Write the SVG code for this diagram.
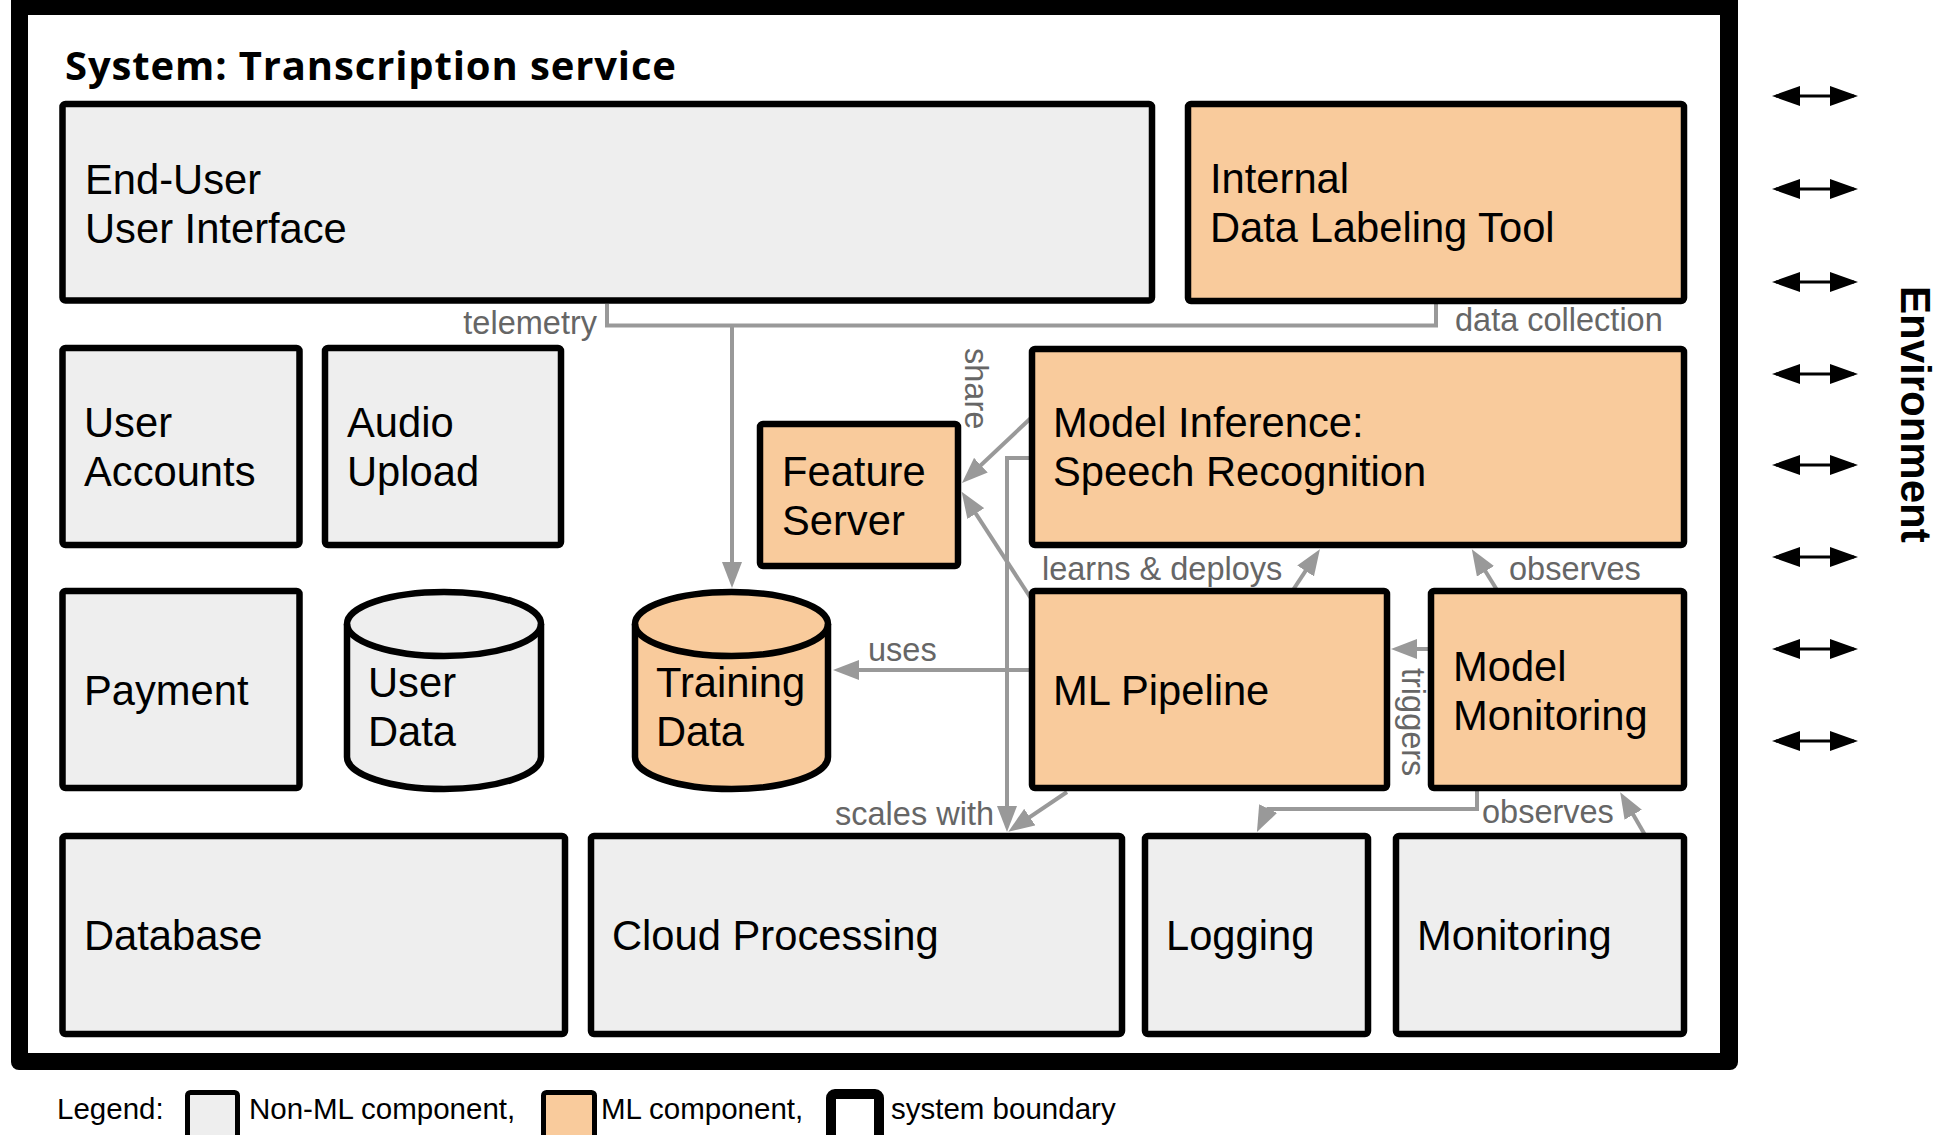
<svg xmlns="http://www.w3.org/2000/svg" width="1936" height="1135" viewBox="0 0 1936 1135">
<style>
.box{stroke:#000;stroke-width:6.5;stroke-linejoin:round}
.non{fill:#eeeeee}
.ml{fill:#f9cb9c}
.t{font-family:"Liberation Sans",Arial,sans-serif;font-size:41.7px;fill:#000}
.lbl{font-family:"Liberation Sans",Arial,sans-serif;font-size:32.5px;fill:#666666}
.con{fill:none;stroke:#999999;stroke-width:4}
.env{fill:none;stroke:#000;stroke-width:3}
.leg{font-family:"Liberation Sans",Arial,sans-serif;font-size:29.5px;fill:#000}
</style>
<defs>
<marker id="ah" viewBox="0 0 26 20" refX="18" refY="10" markerWidth="26" markerHeight="20" markerUnits="userSpaceOnUse" orient="auto">
<path d="M0,0 L26,10 L0,20 z" fill="#999999"/>
</marker>
<marker id="eh" viewBox="0 0 28 20" refX="24" refY="10" markerWidth="28" markerHeight="20" markerUnits="userSpaceOnUse" orient="auto-start-reverse">
<path d="M0,0 L28,10 L0,20 z" fill="#000"/>
</marker>
</defs>
<rect x="0" y="0" width="1936" height="1135" fill="#fff"/>
<g id="system-boundary">
<rect x="11" y="-10" width="1727" height="1080" rx="8" fill="#000"/>
<rect x="28" y="15" width="1692" height="1038" fill="#fff"/>
<text x="65" y="80" font-family="'Open Sans','Noto Sans',sans-serif" font-weight="700" font-size="40" textLength="611" fill="#000">System: Transcription service</text>
</g>
<g id="connectors">
<path class="con" d="M607,304 V325.5 H1436 V304"/>
<path class="con" d="M732,325.5 V580" marker-end="url(#ah)"/>
<path class="con" d="M1032,417 L967.8,477.5" marker-end="url(#ah)"/>
<path class="con" d="M1032,600 L966,498.5" marker-end="url(#ah)"/>
<path class="con" d="M1032,458 H1007 V824" marker-end="url(#ah)"/>
<path class="con" d="M1067,792 L1014.9,827.2" marker-end="url(#ah)"/>
<path class="con" d="M1032,670 H841" marker-end="url(#ah)"/>
<path class="con" d="M1293,590 L1315.5,555.9" marker-end="url(#ah)"/>
<path class="con" d="M1497,590 L1476,556" marker-end="url(#ah)"/>
<path class="con" d="M1431,649 H1399" marker-end="url(#ah)"/>
<path class="con" d="M1477,791 V809 H1268 L1260.4,824.8" marker-end="url(#ah)"/>
<path class="con" d="M1645,835 L1624.2,799.1" marker-end="url(#ah)"/>
<text class="lbl" x="597" y="334" text-anchor="end">telemetry</text>
<text class="lbl" x="1455" y="331">data collection</text>
<text class="lbl" transform="translate(965,348) rotate(90)">share</text>
<text class="lbl" x="1042" y="580">learns &amp; deploys</text>
<text class="lbl" x="1509" y="580">observes</text>
<text class="lbl" x="868" y="661">uses</text>
<text class="lbl" transform="translate(1402,668) rotate(90)">triggers</text>
<text class="lbl" x="994" y="825" text-anchor="end">scales with</text>
<text class="lbl" x="1482" y="823">observes</text>
</g>
<g id="end-user-ui">
<rect class="box non" x="62.5" y="104" width="1089.5" height="196.5" rx="3"/>
<text class="t" x="85" y="194">End-User</text>
<text class="t" x="85" y="243">User Interface</text>
</g>
<g id="data-labeling-tool">
<rect class="box ml" x="1188" y="104" width="496" height="197" rx="3"/>
<text class="t" x="1210" y="193">Internal</text>
<text class="t" x="1210" y="242">Data Labeling Tool</text>
</g>
<g id="user-accounts">
<rect class="box non" x="62.5" y="348" width="237" height="197" rx="3"/>
<text class="t" x="84" y="437">User</text>
<text class="t" x="84" y="486">Accounts</text>
</g>
<g id="audio-upload">
<rect class="box non" x="325" y="348" width="236" height="197" rx="3"/>
<text class="t" x="347" y="437">Audio</text>
<text class="t" x="347" y="486">Upload</text>
</g>
<g id="feature-server">
<rect class="box ml" x="760" y="424" width="198" height="142" rx="3"/>
<text class="t" x="782" y="486">Feature</text>
<text class="t" x="782" y="535">Server</text>
</g>
<g id="model-inference">
<rect class="box ml" x="1032" y="349" width="652" height="196" rx="3"/>
<text class="t" x="1053" y="437">Model Inference:</text>
<text class="t" x="1053" y="486">Speech Recognition</text>
</g>
<g id="payment">
<rect class="box non" x="62.5" y="591" width="237" height="197" rx="3"/>
<text class="t" x="84" y="705">Payment</text>
</g>
<g id="user-data">
<path class="box non" d="M347,624 A97,32 0 0 1 541,624 V757 A97,32 0 0 1 347,757 Z"/>
<path class="box" fill="none" d="M347,624 A97,32 0 0 0 541,624"/>
<text class="t" x="368" y="697">User</text>
<text class="t" x="368" y="746">Data</text>
</g>
<g id="training-data">
<path class="box ml" d="M635,624 A96.5,32 0 0 1 828,624 V757 A96.5,32 0 0 1 635,757 Z"/>
<path class="box" fill="none" d="M635,624 A96.5,32 0 0 0 828,624"/>
<text class="t" x="656" y="697">Training</text>
<text class="t" x="656" y="746">Data</text>
</g>
<g id="ml-pipeline">
<rect class="box ml" x="1032" y="591" width="355" height="197" rx="3"/>
<text class="t" x="1053" y="705">ML Pipeline</text>
</g>
<g id="model-monitoring">
<rect class="box ml" x="1431" y="591" width="253" height="197" rx="3"/>
<text class="t" x="1453" y="681">Model</text>
<text class="t" x="1453" y="730">Monitoring</text>
</g>
<g id="database">
<rect class="box non" x="62.5" y="836" width="502.5" height="198" rx="3"/>
<text class="t" x="84" y="950">Database</text>
</g>
<g id="cloud-processing">
<rect class="box non" x="591" y="836" width="531" height="198" rx="3"/>
<text class="t" x="612" y="950">Cloud Processing</text>
</g>
<g id="logging">
<rect class="box non" x="1145" y="836" width="223" height="198" rx="3"/>
<text class="t" x="1166" y="950">Logging</text>
</g>
<g id="monitoring">
<rect class="box non" x="1396" y="836" width="288" height="198" rx="3"/>
<text class="t" x="1417" y="950">Monitoring</text>
</g>
<g id="environment">
<line class="env" x1="1776" y1="96" x2="1854" y2="96" marker-start="url(#eh)" marker-end="url(#eh)"/>
<line class="env" x1="1776" y1="189" x2="1854" y2="189" marker-start="url(#eh)" marker-end="url(#eh)"/>
<line class="env" x1="1776" y1="282" x2="1854" y2="282" marker-start="url(#eh)" marker-end="url(#eh)"/>
<line class="env" x1="1776" y1="374" x2="1854" y2="374" marker-start="url(#eh)" marker-end="url(#eh)"/>
<line class="env" x1="1776" y1="465" x2="1854" y2="465" marker-start="url(#eh)" marker-end="url(#eh)"/>
<line class="env" x1="1776" y1="557" x2="1854" y2="557" marker-start="url(#eh)" marker-end="url(#eh)"/>
<line class="env" x1="1776" y1="649" x2="1854" y2="649" marker-start="url(#eh)" marker-end="url(#eh)"/>
<line class="env" x1="1776" y1="741" x2="1854" y2="741" marker-start="url(#eh)" marker-end="url(#eh)"/>
<text transform="translate(1901,286) rotate(90)" font-family="'Liberation Sans',Arial,sans-serif" font-weight="700" font-size="42" fill="#000">Environment</text>
</g>
<g id="legend">
<text class="leg" x="57" y="1119">Legend:</text>
<rect x="187.5" y="1092.5" width="50" height="60" rx="3" fill="#eeeeee" stroke="#000" stroke-width="5"/>
<text class="leg" x="249" y="1119">Non-ML component,</text>
<rect x="543.5" y="1092.5" width="51" height="60" rx="3" fill="#f9cb9c" stroke="#000" stroke-width="5"/>
<text class="leg" x="601" y="1119">ML component,</text>
<rect x="831" y="1094" width="48" height="60" rx="4" fill="#fff" stroke="#000" stroke-width="10"/>
<text class="leg" x="891" y="1119">system boundary</text>
</g>
</svg>
